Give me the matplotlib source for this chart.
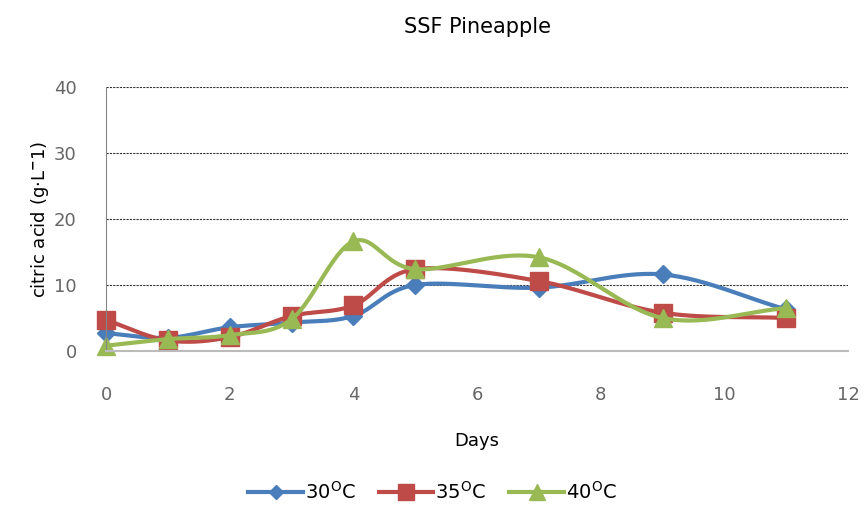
import numpy as np
import matplotlib.pyplot as plt
from matplotlib.lines import Line2D

days = [0, 1, 2, 3, 4, 5, 7, 9, 11]
acid_30 = [2.7, 2.0, 3.6, 4.3, 5.3, 10.0, 9.6, 11.6, 6.3]
acid_35 = [4.7, 1.6, 2.1, 5.3, 6.9, 12.4, 10.6, 5.8, 5.0]
acid_40 = [0.8, 1.8, 2.4, 4.8, 16.6, 12.4, 14.2, 5.0, 6.5]

series_labels = ['30$^{\\mathrm{O}}$C', '35$^{\\mathrm{O}}$C', '40$^{\\mathrm{O}}$C']
colors = ['#4A7EBB', '#BE4B48', '#98B954']
markers = ['D', 's', '^']
msizes = [9, 13, 13]


def smooth(x, y, n=30):
    # excel-like smoothed line (catmull-rom through the points)
    x = np.asarray(x, float)
    y = np.asarray(y, float)
    px = np.concatenate([[2 * x[0] - x[1]], x, [2 * x[-1] - x[-2]]])
    py = np.concatenate([[2 * y[0] - y[1]], y, [2 * y[-1] - y[-2]]])
    xs, ys = [], []
    t = np.linspace(0, 1, n)
    for i in range(1, len(px) - 2):
        for p, out in ((px, xs), (py, ys)):
            p0, p1, p2, p3 = p[i - 1], p[i], p[i + 1], p[i + 2]
            out.append(0.5 * ((2 * p1) + (-p0 + p2) * t
                              + (2 * p0 - 5 * p1 + 4 * p2 - p3) * t ** 2
                              + (-p0 + 3 * p1 - 3 * p2 + p3) * t ** 3))
    return np.concatenate(xs), np.concatenate(ys)


fig = plt.figure(figsize=(8.65, 5.09), dpi=100)
ax = fig.add_axes([106 / 865, 1 - 351 / 509, 742 / 865, 264 / 509])

handles = []
for vals, c, m, ms in zip([acid_30, acid_35, acid_40], colors, markers, msizes):
    sx, sy = smooth(days, vals)
    ax.plot(sx, sy, color=c, lw=3, solid_capstyle='round', clip_on=False)
    ax.plot(days, vals, linestyle='None', marker=m, color=c, ms=ms, clip_on=False)
    handles.append(Line2D([0], [0], color=c, lw=3, marker=m, ms=ms - 2))

ax.set_xlim(0, 12)
ax.set_ylim(0, 40)
ax.set_xticks(range(0, 13, 2))
ax.set_yticks(range(0, 41, 10))
ax.grid(axis='y', color='#333333', linestyle=(0, (2, 1)), lw=0.8)
ax.set_axisbelow(True)
for s in ['top', 'right']:
    ax.spines[s].set_visible(False)
ax.spines['left'].set_color('#868686')
ax.spines['bottom'].set_color('#BBBBBB')
ax.spines['bottom'].set_linewidth(1.5)
ax.tick_params(length=0, labelsize=13, labelcolor='#666666')
ax.tick_params(axis='x', pad=25)
ax.tick_params(axis='y', pad=21)

ax.set_title('SSF Pineapple', fontsize=15, pad=39)
ax.set_xlabel('Days', fontsize=13, labelpad=20)
ax.set_ylabel('citric acid (g$\\cdot$L$^{\\mathbf{-}}$1)', fontsize=13, labelpad=2)

fig.legend(handles, series_labels, loc='center', bbox_to_anchor=(0.5, 1 - 492 / 509),
           ncol=3, frameon=False, fontsize=14, handlelength=2.8, handletextpad=0.1,
           columnspacing=1.2)

fig.savefig('out.png', dpi=100)
